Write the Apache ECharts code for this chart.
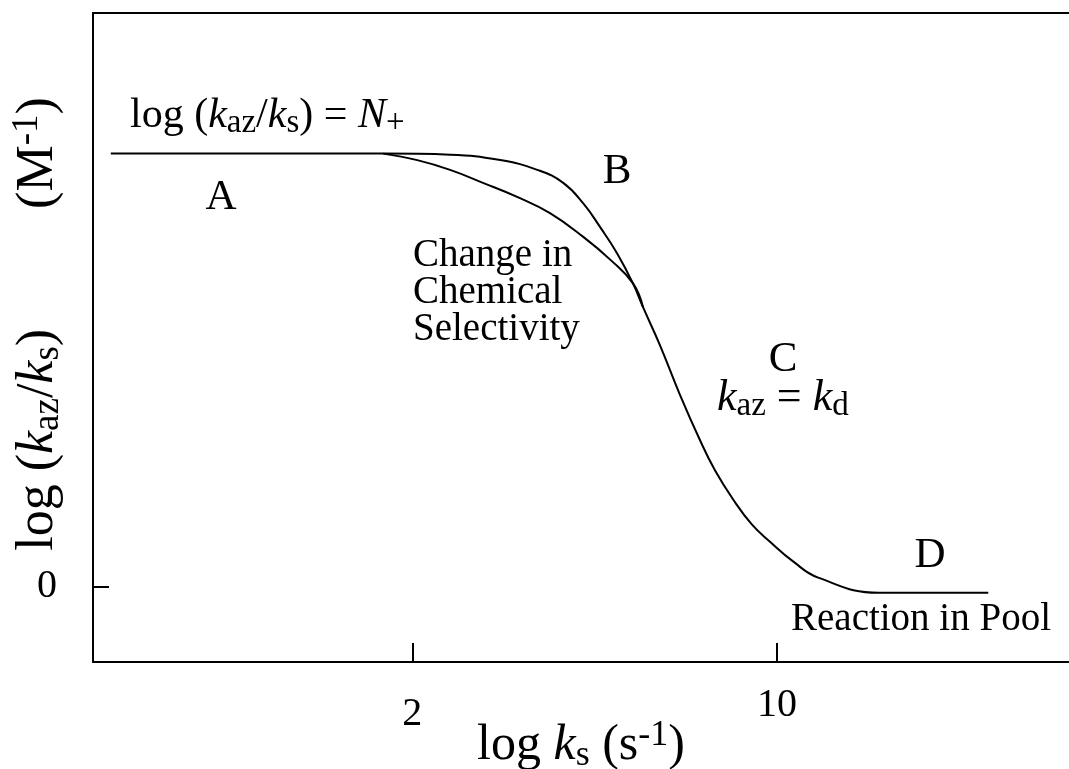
<!DOCTYPE html>
<html>
<head>
<meta charset="utf-8">
<script src="https://cdn.jsdelivr.net/npm/echarts@6/dist/echarts.min.js"></script>
<style>
  html, body { margin: 0; padding: 0; background: #ffffff; }
  #chart { width: 1069px; height: 769px; }
</style>
</head>
<body>
<div id="chart"></div>
<script>
// Tick positions on each axis
const xTickValues = [2, 10];
const yTickValues = [0];

// Main curve: plateau at N+, sharp shoulder (B), fall through C, floor at D
const trunkX = [-4.61, 1.36, 2.83, 3.93, 4.74, 5.31, 5.75, 6.12, 6.49, 6.84, 7.06, 7.43, 7.87, 8.31, 8.64, 9.04, 9.45, 9.85, 10.35, 10.90, 12.24, 14.63];
const trunkY = [4.00, 4.00, 3.99, 3.94, 3.85, 3.73, 3.54, 3.32, 3.08, 2.80, 2.58, 2.23, 1.77, 1.35, 1.07, 0.80, 0.57, 0.41, 0.23, 0.08, -0.06, -0.06];

// Softer branch: change in chemical selectivity, rejoins the main curve
const branchX = [1.36, 2.11, 2.83, 3.55, 4.30, 5.02, 5.75, 6.34, 6.84, 7.06];
const branchY = [4.00, 3.94, 3.85, 3.73, 3.60, 3.45, 3.23, 3.02, 2.80, 2.58];

const serif = '"Liberation Serif", "Times New Roman", Times, serif';

function richSet(size, subSize, extra) {
  return Object.assign({
    n:   { fontFamily: serif, fontSize: size, lineHeight: size + 6, color: '#000' },
    i:   { fontFamily: serif, fontSize: size, lineHeight: size + 6, fontStyle: 'italic', color: '#000' },
    sub: { fontFamily: serif, fontSize: subSize, lineHeight: 18, verticalAlign: 'bottom', color: '#000' },
    sup: { fontFamily: serif, fontSize: subSize, lineHeight: 18, verticalAlign: 'top', color: '#000' }
  }, extra || {});
}

const headRich = richSet(42, 33);
const kRich = richSet(44, 33);
const xTitleRich = richSet(50, 36);
const yTitleRich = richSet(52, 37, { gap: { fontSize: 52, lineHeight: 58, width: 120 } });

const zip = (xs, ys) => xs.map((x, k) => [x, ys[k]]);

const chart = echarts.init(document.getElementById('chart'), null, { renderer: 'canvas' });

function annotation(x, y, text, opts) {
  return {
    type: 'text',
    x: x,
    y: y,
    silent: true,
    style: Object.assign({
      text: text,
      fill: '#000',
      font: '39px ' + serif,
      align: 'left',
      verticalAlign: 'middle'
    }, opts || {})
  };
}

const letterFont = '43px ' + serif;

const option = {
  animation: false,
  backgroundColor: '#ffffff',
  grid: { left: 93, right: 0, top: 13, bottom: 107, containLabel: false, outerBoundsMode: 'none' },
  xAxis: [
    {
      type: 'value',
      min: -5,
      max: 16.4,
      position: 'bottom',
      splitLine: { show: false },
      axisLine: { show: true, onZero: false, lineStyle: { color: '#000', width: 2 } },
      axisTick: { show: true, inside: true, length: 19, customValues: xTickValues, lineStyle: { color: '#000', width: 2 } },
      axisLabel: {
        show: true,
        margin: 23,
        customValues: xTickValues,
        formatter: v => (v === 2 ? '{lo|2}' : '{hi|' + v + '}'),
        rich: {
          lo: { fontFamily: serif, fontSize: 40, lineHeight: 58, color: '#000' },
          hi: { fontFamily: serif, fontSize: 40, lineHeight: 40, color: '#000' }
        }
      },
      name: '{n|log }{i|k}{sub|s}{n| (s}{sup|-1}{n|)}',
      nameLocation: 'middle',
      nameGap: 56,
      nameMoveOverlap: false,
      nameTextStyle: { rich: xTitleRich }
    },
    {
      type: 'value',
      min: -5,
      max: 16.4,
      position: 'top',
      splitLine: { show: false },
      axisLine: { show: true, onZero: false, lineStyle: { color: '#000', width: 2 } },
      axisTick: { show: false },
      axisLabel: { show: false }
    }
  ],
  yAxis: {
    type: 'value',
    min: -0.7,
    max: 5.3,
    splitLine: { show: false },
    axisLine: { show: true, onZero: false, lineStyle: { color: '#000', width: 2 } },
    axisTick: { show: true, inside: true, length: 16, customValues: yTickValues, lineStyle: { color: '#000', width: 2 } },
    axisLabel: {
      show: true,
      margin: 36,
      customValues: yTickValues,
      fontFamily: serif,
      fontSize: 40,
      color: '#000'
    },
    name: '{n|log (}{i|k}{sub|az}{n|/}{i|k}{sub|s}{n|)}{gap| }{n|(M}{sup|-1}{n|)}',
    nameLocation: 'middle',
    nameRotate: 90,
    nameGap: 26,
    nameMoveOverlap: false,
    nameTextStyle: { rich: yTitleRich, padding: [0, 0, 0, 27] }
  },
  series: [
    {
      type: 'line',
      data: zip(trunkX, trunkY),
      symbol: 'none',
      smooth: 0.45,
      lineStyle: { color: '#000', width: 2 },
      silent: true
    },
    {
      type: 'line',
      data: zip(branchX, branchY),
      symbol: 'none',
      smooth: 0.45,
      lineStyle: { color: '#000', width: 2 },
      silent: true
    }
  ],
  graphic: [
    annotation(130, 116, '{n|log (}{i|k}{sub|az}{n|/}{i|k}{sub|s}{n|) = }{i|N}{sub|+}', { rich: headRich }),
    annotation(221, 198, 'A', { align: 'center', font: letterFont }),
    annotation(617, 172, 'B', { align: 'center', font: letterFont }),
    annotation(413, 237, 'Change in\nChemical\nSelectivity', { verticalAlign: 'top', lineHeight: 37 }),
    annotation(783, 360, 'C', { align: 'center', font: letterFont }),
    annotation(717, 398, '{i|k}{sub|az}{n| = }{i|k}{sub|d}', { rich: kRich }),
    annotation(930, 556, 'D', { align: 'center', font: letterFont }),
    annotation(791, 620, 'Reaction in Pool')
  ]
};

chart.setOption(option);
</script>
</body>
</html>
